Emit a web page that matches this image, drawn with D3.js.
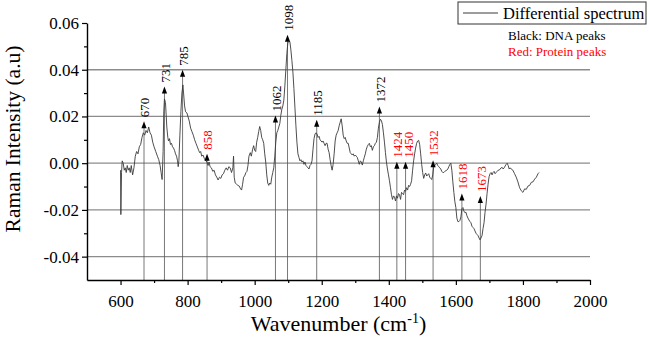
<!DOCTYPE html>
<html>
<head>
<meta charset="utf-8">
<script src="https://cdn.jsdelivr.net/npm/d3@7"></script>
<style>
  html, body { margin: 0; padding: 0; background: #fff; }
  svg { display: block; }
  svg text { font-family: "Liberation Serif", "Times New Roman", serif !important; }
</style>
</head>
<body>
<svg id="chart" width="649" height="339"></svg>
<script>
// ---- data ----
const wavenumbers = [600,601,603,605,608,611,614,617,620,623,626,629,632,636,640,644,648,652,656,660,664,668,672,676,680,684,688,692,696,700,705,710,714,718,721,724,727,729,731,734,736,738,741,743,746,749,752,755,758,761,764,767,770,772,774,777,780,783,786,788,791,794,798,801,805,809,813,817,821,825,829,833,836,839,842,846,850,854,858,861,864,867,871,875,879,883,887,891,895,899,903,907,911,915,919,923,927,931,935,937,939,942,946,950,954,958,961,964,967,970,974,977,980,983,987,990,994,997,1000,1003,1006,1009,1012,1015,1018,1021,1024,1027,1030,1033,1036,1039,1042,1045,1048,1051,1054,1057,1060,1063,1066,1069,1072,1075,1078,1081,1084,1087,1090,1093,1096,1099,1102,1105,1108,1111,1114,1117,1120,1123,1126,1129,1132,1135,1138,1141,1144,1147,1150,1153,1156,1159,1162,1165,1168,1171,1174,1177,1180,1183,1186,1189,1192,1195,1198,1201,1204,1207,1210,1213,1216,1219,1222,1225,1228,1231,1234,1237,1240,1243,1246,1249,1252,1255,1258,1261,1264,1267,1270,1273,1276,1279,1282,1285,1288,1291,1294,1297,1300,1303,1306,1309,1312,1315,1318,1321,1324,1327,1330,1333,1336,1339,1342,1345,1348,1351,1354,1357,1360,1363,1366,1369,1372,1375,1378,1381,1384,1387,1390,1393,1396,1399,1402,1405,1408,1411,1414,1417,1420,1423,1426,1429,1432,1435,1438,1441,1444,1447,1450,1453,1456,1459,1462,1465,1468,1471,1474,1477,1480,1483,1486,1489,1492,1495,1498,1501,1504,1507,1510,1513,1516,1519,1522,1525,1528,1531,1534,1537,1540,1543,1546,1549,1552,1555,1558,1561,1564,1567,1570,1573,1576,1579,1582,1585,1588,1591,1594,1597,1600,1603,1606,1609,1612,1615,1618,1621,1624,1627,1630,1633,1636,1639,1642,1645,1648,1651,1654,1657,1660,1663,1666,1669,1672,1675,1678,1681,1684,1687,1690,1693,1696,1699,1702,1705,1708,1711,1714,1717,1720,1723,1726,1729,1732,1735,1738,1741,1744,1747,1750,1753,1756,1759,1762,1765,1770,1775,1780,1785,1790,1795,1800,1805,1810,1815,1820,1825,1830,1835,1840,1845,1848];
const intensities = [-0.003,-0.022,-0.004,0.001,0.000,-0.003,-0.002,-0.004,-0.001,-0.003,-0.002,-0.004,-0.001,-0.005,-0.002,0.003,0.005,0.004,0.007,0.008,0.011,0.013,0.012,0.014,0.013,0.0155,0.013,0.012,0.009,0.007,0.005,0.003,0.0015,-0.001,-0.004,-0.007,0.005,0.022,0.0275,0.026,0.021,0.0155,0.011,0.0095,0.0105,0.008,0.0085,0.007,0.0065,0.0055,0.004,0.003,0.001,-0.0015,0.001,0.012,0.022,0.030,0.0335,0.030,0.0245,0.022,0.0215,0.020,0.018,0.015,0.0135,0.012,0.010,0.0085,0.007,0.0055,0.0045,0.005,0.003,0.0035,0.002,0.001,0.0005,-0.001,0.0005,-0.0015,-0.002,-0.0035,-0.003,-0.005,-0.006,-0.0072,-0.006,-0.0065,-0.005,-0.0045,-0.003,-0.002,-0.003,-0.0015,-0.002,-0.004,-0.002,0.003,-0.006,-0.0085,-0.009,-0.0095,-0.0098,-0.011,-0.0115,-0.009,-0.006,-0.0055,-0.004,-0.0035,-0.001,0.003,0.0045,0.003,0.006,0.0075,0.0055,0.005,0.009,0.011,0.0135,0.0157,0.014,0.011,0.010,0.0085,0.004,0.0005,-0.005,-0.0085,-0.0095,-0.0085,-0.009,-0.006,-0.004,-0.002,0.003,0.009,0.013,0.014,0.0155,0.017,0.0205,0.023,0.0245,0.027,0.033,0.040,0.047,0.0515,0.052,0.052,0.0485,0.044,0.039,0.032,0.024,0.016,0.009,0.004,0.0025,0.001,0.0015,0.0005,0.001,-0.0005,0.0005,-0.001,-0.0015,-0.002,-0.0025,-0.001,-0.0005,0.001,0.006,0.0105,0.0125,0.013,0.0125,0.011,0.0115,0.010,0.0095,0.009,0.0095,0.0085,0.0075,0.0085,0.0085,0.006,0.0045,0.0015,-0.001,-0.003,-0.0005,0.004,0.0095,0.012,0.013,0.014,0.016,0.0175,0.019,0.016,0.012,0.0105,0.011,0.0095,0.0085,0.0085,0.0065,0.0045,0.004,0.0035,0.004,0.003,0.0035,0.003,0.0025,0.001,-0.0005,0.001,0.0005,-0.0008,0.001,0.0025,0.004,0.006,0.0072,0.008,0.0085,0.007,0.0075,0.0055,0.007,0.0075,0.0085,0.009,0.011,0.015,0.0175,0.0188,0.0182,0.0165,0.013,0.009,0.0045,0.0005,-0.0025,-0.005,-0.0075,-0.0105,-0.0135,-0.0155,-0.014,-0.0145,-0.0162,-0.014,-0.015,-0.013,-0.0135,-0.0155,-0.0125,-0.013,-0.0135,-0.0115,-0.012,-0.0105,-0.0115,-0.0095,-0.010,-0.009,-0.0075,-0.003,0.001,0.004,0.0065,0.0085,0.0095,0.0098,0.008,0.004,-0.0005,-0.004,-0.0065,-0.005,-0.0042,-0.0055,-0.005,-0.0045,-0.006,-0.0065,-0.007,-0.005,-0.0015,-0.001,-0.0005,0.000,-0.001,-0.0015,-0.002,-0.0025,-0.0035,-0.004,-0.004,-0.0035,-0.0032,-0.003,-0.0025,-0.0015,-0.0005,0.000,-0.003,-0.008,-0.0125,-0.0165,-0.019,-0.0235,-0.025,-0.025,-0.0245,-0.023,-0.0195,-0.019,-0.0205,-0.0212,-0.021,-0.0225,-0.0235,-0.0243,-0.025,-0.0255,-0.027,-0.0275,-0.028,-0.029,-0.030,-0.0305,-0.031,-0.032,-0.0328,-0.032,-0.031,-0.028,-0.0255,-0.021,-0.0175,-0.013,-0.009,-0.0058,-0.0045,-0.004,-0.005,-0.004,-0.0035,-0.0045,-0.004,-0.0035,-0.003,-0.003,-0.0025,-0.002,-0.0018,-0.0025,-0.002,-0.0012,-0.0005,0.000,-0.001,-0.0025,-0.002,-0.0025,-0.003,-0.0045,-0.006,-0.008,-0.0105,-0.0118,-0.0125,-0.011,-0.0112,-0.0098,-0.0095,-0.0082,-0.008,-0.0068,-0.006,-0.0045,-0.004];

const peakPositions = [670,731,785,858,1062,1098,1185,1372,1424,1450,1532,1618,1673];
const peakArrowTips = [0.018,0.0328,0.040,0.004,0.0204,0.055,0.0186,0.0243,0.0006,0.0006,0.0013,-0.013,-0.014];
const peakTypes = ["DNA","DNA","DNA","Protein","DNA","DNA","DNA","DNA","Protein","Protein","Protein","Protein","Protein"];

const xMajorTicks = [600,800,1000,1200,1400,1600,1800,2000];
const xMinorTicks = [700,900,1100,1300,1500,1700,1900];
const yMajorTicks = [-0.04,-0.02,0.00,0.02,0.04,0.06];
const yMinorTicks = [-0.03,-0.01,0.01,0.03,0.05];
const gridValues = [-0.04,-0.02,0.00,0.02,0.04];

const seriesName = "Differential spectrum";
const noteLines = [{text:"Black: DNA peaks", type:"DNA"},{text:"Red: Protein peaks", type:"Protein"}];
const typeColor = {DNA:"#000000", Protein:"#ff0000"};

// ---- chart ----
const FONT = '"Liberation Serif", "Times New Roman", serif';
const svg = d3.select("#chart");
svg.append("rect").attr("width",649).attr("height",339).attr("fill","#fff");

const x = d3.scaleLinear().domain([500,2000]).range([87,590]);
const y = d3.scaleLinear().domain([-0.05,0.06]).range([280,23]);

// gridlines
svg.append("g").selectAll("line").data(gridValues).join("line")
  .attr("x1", x(500)).attr("x2", x(2000))
  .attr("y1", d => y(d)).attr("y2", d => y(d))
  .attr("stroke", "#8c8c8c").attr("stroke-width", 1.3);

// vertical peak lines
const peaks = peakPositions.map((p,i) => ({pos:p, tip:peakArrowTips[i], type:peakTypes[i]}));
svg.append("g").selectAll("line").data(peaks).join("line")
  .attr("x1", d => x(d.pos)).attr("x2", d => x(d.pos))
  .attr("y1", d => y(d.tip) + 3).attr("y2", y(-0.05))
  .attr("stroke", "#555").attr("stroke-width", 0.8);

// spectrum
const pts = wavenumbers.map((w,i) => [w, intensities[i]]);
svg.append("path").datum(pts)
  .attr("fill","none").attr("stroke","#3a3a3a").attr("stroke-width",0.9)
  .attr("stroke-linejoin","round")
  .attr("d", d3.line().x(d => x(d[0])).y(d => y(d[1])));

// arrows
svg.append("g").selectAll("path").data(peaks).join("path")
  .attr("d", d => {
    const cx = x(d.pos), ty = y(d.tip);
    return `M${cx},${ty} L${cx-2.6},${ty+7} L${cx+2.6},${ty+7} Z`;
  })
  .attr("fill","#000");

// peak labels, nudged apart when neighbours would touch
const minGap = 10.5;
let prevLX = -Infinity;
peaks.forEach(d => {
  let lx = x(d.pos) + 0.8;
  if (lx - prevLX < minGap) lx = prevLX + minGap;
  d.lx = lx; prevLX = lx;
});
svg.append("g").selectAll("text").data(peaks).join("text")
  .attr("transform", d => `translate(${d.lx},${y(d.tip)-4}) rotate(-90)`)
  .attr("dy","0.35em")
  .attr("text-anchor","start")
  .style("font-family", FONT)
  .style("font-size", "13px")
  .attr("fill", d => typeColor[d.type])
  .text(d => d.pos);

// axes
const fmt = d => d.toFixed(2);
svg.append("g").attr("transform",`translate(0,${y(-0.05)})`)
  .call(d3.axisBottom(x).tickValues(xMajorTicks).tickSize(5).tickSizeOuter(0).tickPadding(10).tickFormat(d3.format("d")));
svg.append("g").attr("transform",`translate(0,${y(-0.05)})`)
  .call(d3.axisBottom(x).tickValues(xMinorTicks).tickSize(3).tickSizeOuter(0).tickFormat(""))
  .select(".domain").remove();
svg.append("g").attr("transform",`translate(${x(500)},0)`)
  .call(d3.axisLeft(y).tickValues(yMajorTicks).tickSize(5).tickSizeOuter(0).tickPadding(3).tickFormat(fmt));
svg.append("g").attr("transform",`translate(${x(500)},0)`)
  .call(d3.axisLeft(y).tickValues(yMinorTicks).tickSize(3).tickSizeOuter(0).tickFormat(""))
  .select(".domain").remove();

svg.selectAll(".domain").attr("stroke","#000").attr("stroke-width",1.4);
svg.selectAll(".tick line").attr("stroke","#000").attr("stroke-width",1.2);
svg.selectAll(".tick text").style("font-family", FONT).style("font-size","17px").attr("fill","#000");

// axis titles
svg.append("text")
  .attr("x", (x(500)+x(2000))/2).attr("y", 331)
  .attr("text-anchor","middle")
  .style("font-family", FONT).style("font-size","22px")
  .call(t => {
    t.append("tspan").text("Wavenumber (cm");
    t.append("tspan").style("font-size","14px").attr("dy",-8).text("-1");
    t.append("tspan").attr("dy",8).text(")");
  });
svg.append("text")
  .attr("transform",`translate(20,139) rotate(-90)`)
  .attr("text-anchor","middle")
  .style("font-family", FONT).style("font-size","21.5px")
  .text("Raman Intensity (a.u)");

// legend
const lg = svg.append("g");
lg.append("rect").attr("x",458).attr("y",2).attr("width",188).attr("height",22)
  .attr("fill","#fff").attr("stroke","#333").attr("stroke-width",1);
lg.append("line").attr("x1",463).attr("x2",498).attr("y1",13).attr("y2",13)
  .attr("stroke","#3a3a3a").attr("stroke-width",1);
lg.append("text").attr("x",503).attr("y",19)
  .style("font-family", FONT).style("font-size","16.5px").text(seriesName);

svg.append("g").selectAll("text").data(noteLines).join("text")
  .attr("x",508).attr("y",(d,i) => 40 + i*16)
  .style("font-family", FONT).style("font-size","13px")
  .attr("fill", d => typeColor[d.type])
  .text(d => d.text);
</script>
</body>
</html>
